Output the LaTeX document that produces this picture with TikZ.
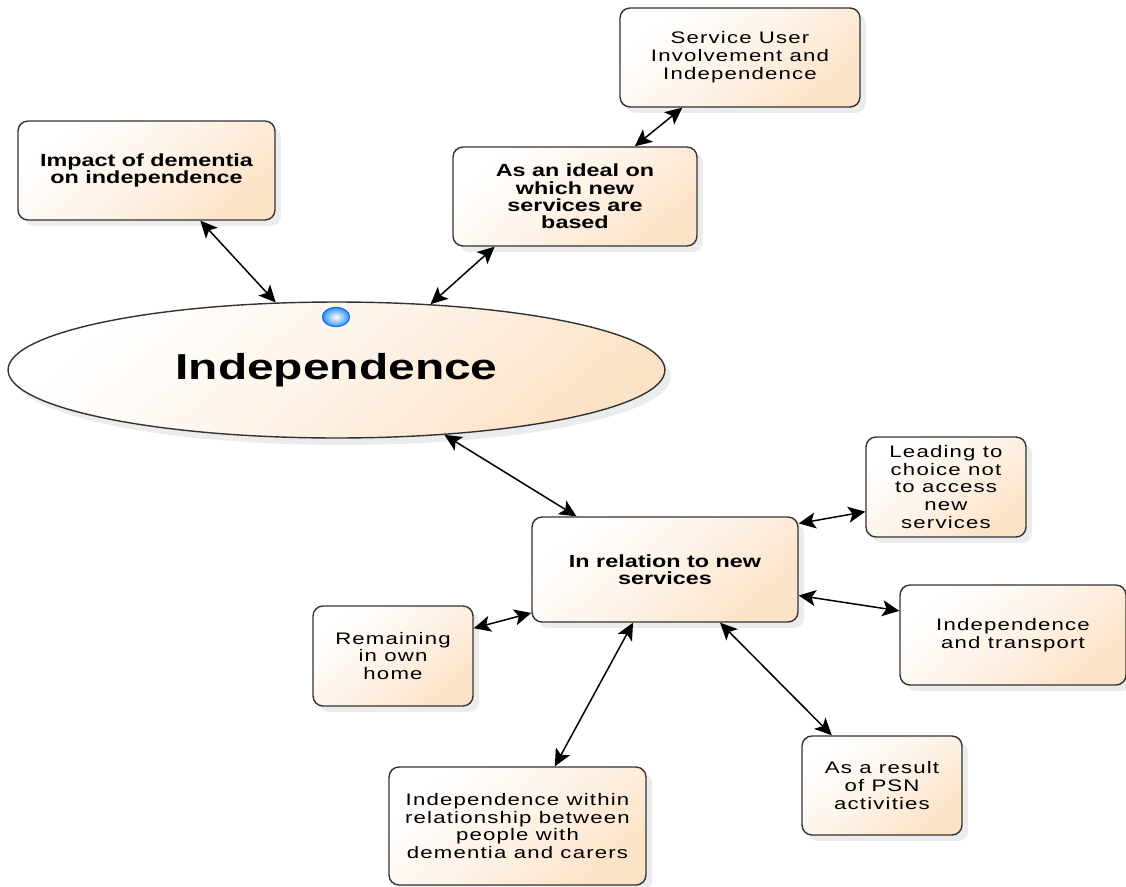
\documentclass[tikz,border=0pt]{standalone}
\usepackage{fontspec}
\setmainfont{Liberation Sans}
\newfontfamily\plainfont{Liberation Sans}[FakeStretch=1.33, LetterSpace=7]
\newfontfamily\strongfont{Liberation Sans Bold}[FakeStretch=1.33]
\usetikzlibrary{arrows.meta, shapes.geometric, shadows}

\definecolor{peach}{RGB}{252,226,198}
\definecolor{edgegray}{RGB}{51,51,51}
\definecolor{dotblue}{RGB}{50,150,255}
\definecolor{dotrim}{RGB}{25,105,225}

\tikzset{
  peachfill/.style={top color=white, bottom color=peach, middle color=peach!40!white,
    shading angle=40},
  topic/.style={draw=edgegray, line width=0.8pt, rounded corners=0.2cm, peachfill,
    drop shadow={shadow xshift=0.12cm, shadow yshift=-0.12cm, opacity=0.15},
    align=center, inner sep=0pt, font=\plainfont\fontsize{9.5}{10.2}\selectfont},
  keytopic/.style={topic, font=\strongfont\fontsize{10}{9.8}\selectfont},
  link/.style={draw=black, line width=0.85pt,
    {Stealth[length=0.34cm,width=0.32cm,inset=0.08cm]}-{Stealth[length=0.34cm,width=0.32cm,inset=0.08cm]}},
}

\begin{document}
\begin{tikzpicture}[x=0.02cm, y=-0.02cm, line join=round]
  \useasboundingbox (0,0) rectangle (1126,886);
  % the central idea
  \node[draw=edgegray, line width=0.8pt, ellipse, inner sep=0pt, peachfill,
    drop shadow={shadow xshift=0.12cm, shadow yshift=-0.14cm, opacity=0.15},
    minimum width=13.14cm, minimum height=2.72cm,
    font=\strongfont\fontsize{20.5}{24}\selectfont] (indep) at (336.5,370) {Independence};
  \shade[draw=dotrim, line width=0.7pt, inner color=white, outer color=dotblue]
    (336,317) ellipse [x radius=0.27cm, y radius=0.19cm];
  % upper branch
  \node[keytopic, minimum width=5.14cm, minimum height=1.98cm] (impact) at (146.5,170.5)
    {Impact of dementia\\on independence};
  \node[keytopic, minimum width=4.88cm, minimum height=1.98cm] (ideal) at (575,196.5)
    {As an ideal on\\which new\\services are\\based};
  \node[topic, minimum width=4.8cm, minimum height=1.98cm] (suser) at (740,57.5)
    {Service User\\Involvement and\\Independence};
  % lower branch, round the services box
  \node[keytopic, minimum width=5.32cm, minimum height=2.1cm] (rel) at (665,569.5)
    {In relation to new\\services};
  \node[topic, minimum width=3.2cm, minimum height=2cm] (lead) at (946,487)
    {Leading to\\choice not\\to access\\new\\services};
  \node[topic, minimum width=4.52cm, minimum height=2cm] (transp) at (1013,635)
    {Independence\\and transport};
  \node[topic, minimum width=3.2cm, minimum height=2cm] (remain) at (393,656)
    {Remaining\\in own\\home};
  \node[topic, minimum width=5.14cm, minimum height=2.36cm] (within) at (517.5,826)
    {Independence within\\relationship between\\people with\\dementia and carers};
  \node[topic, minimum width=3.2cm, minimum height=1.98cm] (result) at (882,785.5)
    {As a result\\of PSN\\activities};
  % two-way links
  \foreach \from/\to in {impact.-43/indep.132, ideal.-148/indep.35, suser.-139/ideal.40,
      indep.-31/rel.149, rel.19/lead.-163, rel.-11/transp.168, rel.-162/remain.19,
      rel.-121/within.58, rel.-44/result.135}
    \draw[link] (\from) -- (\to);
\end{tikzpicture}
\end{document}
